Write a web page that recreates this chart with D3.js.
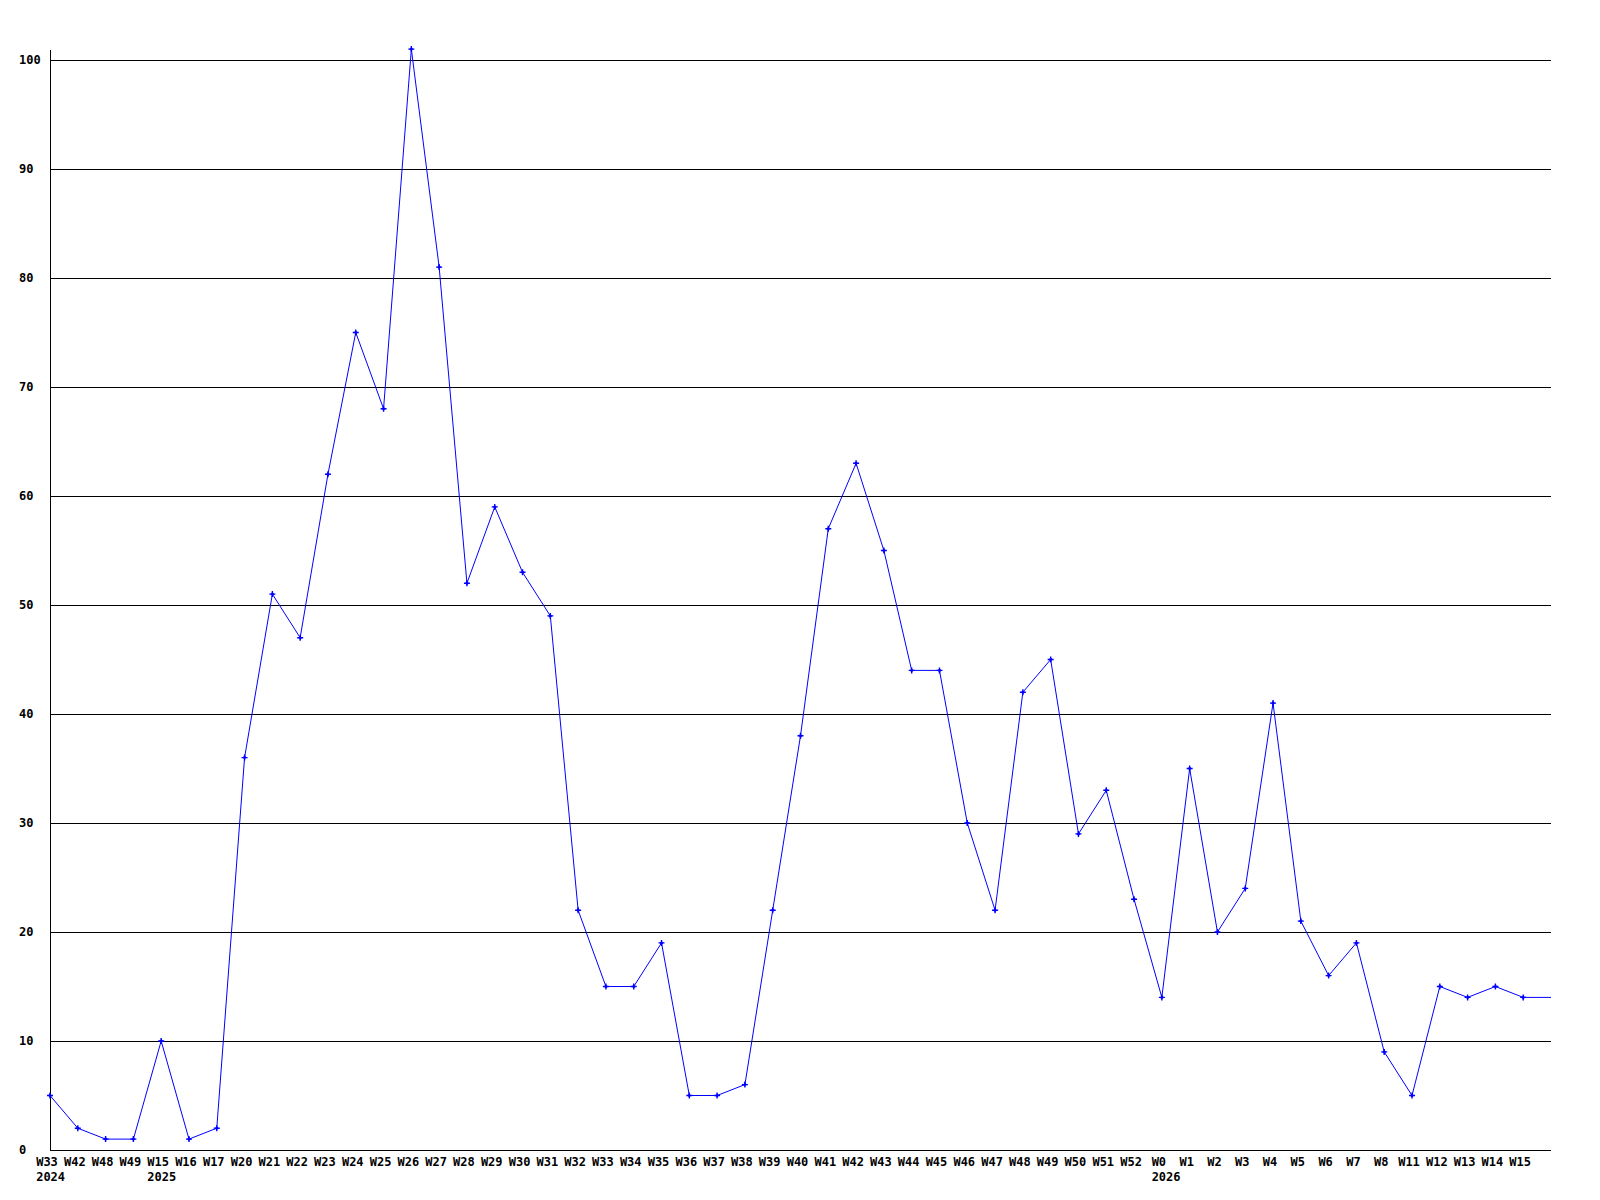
<!DOCTYPE html>
<html>
<head>
<meta charset="utf-8">
<script src="https://cdn.jsdelivr.net/npm/d3@7"></script>
<style>
  body { margin: 0; background: #fff; }
  svg text { font-family: "DejaVu Sans Mono", "Liberation Mono", monospace; font-weight: bold; font-size: 12px; fill: #000; }
</style>
</head>
<body>
<svg id="chart" width="1600" height="1200"></svg>
<script>
// week labels along the x axis
var weeks = ['W33','W42','W48','W49','W15','W16','W17','W20','W21','W22','W23','W24','W25','W26',
  'W27','W28','W29','W30','W31','W32','W33','W34','W35','W36','W37','W38','W39','W40','W41','W42',
  'W43','W44','W45','W46','W47','W48','W49','W50','W51','W52','W0','W1','W2','W3','W4','W5','W6',
  'W7','W8','W11','W12','W13','W14','W15'];

// weekly counts
var values = [5,2,1,1,10,1,2,36,51,47,62,75,68,101,
  81,52,59,53,49,22,15,15,19,5,5,6,22,38,57,63,
  55,44,44,30,22,42,45,29,33,23,14,35,20,24,41,21,16,
  19,9,5,15,14,15,14];

// year shown under the first week of each year
var years = ['2024','2025','2026'];
var yearStart = [0, 4, 40];

var yTicks = [0,10,20,30,40,50,60,70,80,90,100];

var svg = d3.select('#chart');

var padLeft = 50, padRight = 1551, padTop = 50, padBottom = 1150;

// one extra slot on the right, the line runs flat into it
var x = d3.scaleLinear().domain([0, weeks.length]).range([padLeft, padRight]);
var y = d3.scaleLinear().domain([0, 100]).range([padBottom, 60]);

// grid lines
svg.selectAll('line.grid')
  .data(yTicks.filter(function(d){ return d > 0; }))
  .enter().append('line')
  .attr('class','grid')
  .attr('x1', padLeft).attr('x2', padRight)
  .attr('y1', function(d){ return Math.round(y(d)) + 0.5; })
  .attr('y2', function(d){ return Math.round(y(d)) + 0.5; })
  .attr('stroke','#000').attr('shape-rendering','crispEdges');

// axes
svg.append('line')
  .attr('x1', padLeft + 0.5).attr('x2', padLeft + 0.5)
  .attr('y1', padTop).attr('y2', padBottom)
  .attr('stroke','#000').attr('shape-rendering','crispEdges');
svg.append('line')
  .attr('x1', padLeft).attr('x2', padRight)
  .attr('y1', padBottom + 0.5).attr('y2', padBottom + 0.5)
  .attr('stroke','#000').attr('shape-rendering','crispEdges');

// y labels, left aligned
svg.selectAll('text.ylab')
  .data(yTicks)
  .enter().append('text')
  .attr('class','ylab')
  .attr('x', 19)
  .attr('y', function(d){ return y(d) + 4; })
  .text(function(d){ return d; });

// week labels
var wl = svg.selectAll('text.wlab')
  .data(weeks)
  .enter().append('text')
  .attr('class','wlab')
  .attr('text-anchor','middle')
  .attr('x', function(d, i){ return x(i) - 3; })
  .attr('y', padBottom + 16)
  .text(function(d){ return d; });

// year labels, lined up with the left edge of their week label
years.forEach(function(yr, k) {
  var node = wl.nodes()[yearStart[k]];
  var bb = node.getBBox();
  svg.append('text')
    .attr('x', bb.x)
    .attr('y', padBottom + 31)
    .text(yr);
});

// the series line
var line = d3.line()
  .x(function(d, i){ return x(i); })
  .y(function(d){ return y(d); });

svg.append('path')
  .datum(values.concat([values[values.length - 1]]))
  .attr('d', line)
  .attr('fill','none')
  .attr('stroke','#0000ff')
  .attr('stroke-width', 1);

// point markers
var marks = svg.selectAll('g.mark')
  .data(values)
  .enter().append('g')
  .attr('class','mark')
  .attr('transform', function(d, i){ return 'translate(' + x(i) + ',' + y(d) + ')'; });

marks.append('path')
  .attr('d', 'M-3,0 L3,0 M0,-3 L0,3')
  .attr('stroke','#0000ff')
  .attr('stroke-width', 1.4);
marks.append('path')
  .attr('d', 'M0,-2 L2,0 L0,2 L-2,0 Z')
  .attr('fill','#0000ff');
</script>
</body>
</html>
